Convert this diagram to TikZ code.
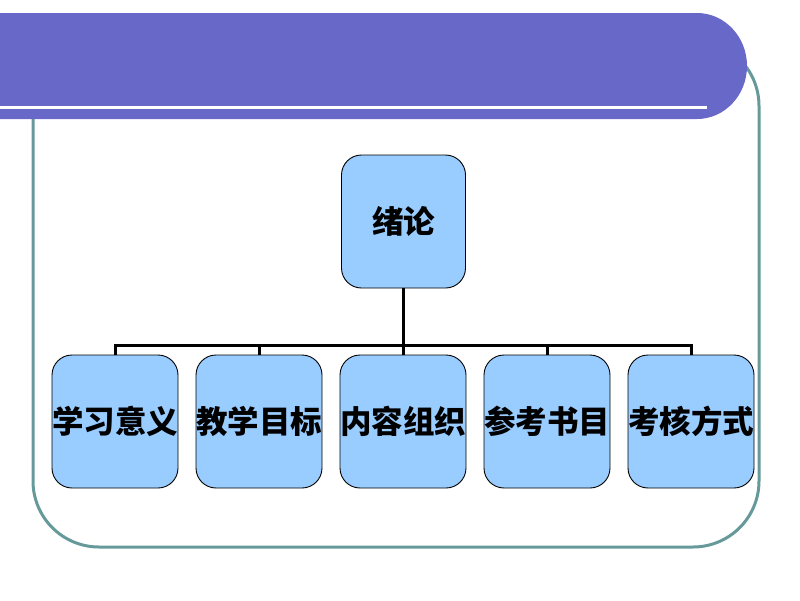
\documentclass[tikz,border=0pt]{standalone}
\usepackage{fontspec}
\newfontfamily\cjk{Noto Sans CJK SC}
\definecolor{hdr}{RGB}{104,104,200}
\definecolor{frame}{RGB}{102,153,153}
\definecolor{boxfill}{RGB}{153,204,255}
\begin{document}
\begin{tikzpicture}[x=1pt,y=1pt,
  box/.style={draw=black, line width=0.9pt, fill=boxfill, rounded corners=20pt,
    minimum width=124pt, minimum height=133pt, inner sep=0pt,
    font=\cjk\bfseries\fontsize{31.5pt}{33pt}\selectfont},
  conn/.style={draw=black, line width=3pt}]
\useasboundingbox (0,0) rectangle (800,-600);
% frame
\draw[frame, line width=3pt, rounded corners=66pt] (33,-40) rectangle (759,-547);
% header band
\fill[hdr] (0,-13) -- (697,-13) arc[start angle=90, end angle=-90, x radius=50, y radius=53] -- (0,-119) -- cycle;
\draw[white, line width=3pt] (0,-107) -- (707,-107);
% nodes
\node[box] (top) at (403.5,-221.5) {绪论};
\node[box] (b1) at (115,-421.5) {学习意义};
\node[box] (b2) at (259,-421.5) {教学目标};
\node[box] (b3) at (403,-421.5) {内容组织};
\node[box] (b4) at (547,-421.5) {参考书目};
\node[box] (b5) at (691,-421.5) {考核方式};
% connectors
\foreach \b in {b1,b2,b3,b4,b5}
  \draw[conn] (top.south) -- ++(0,-57) -| (\b.north);
\end{tikzpicture}
\end{document}
